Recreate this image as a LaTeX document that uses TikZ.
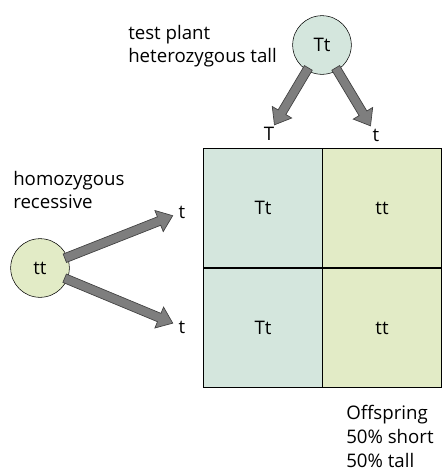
\documentclass[tikz,border=0pt]{standalone}
\usepackage{fontspec}
\setmainfont{Open Sans}
\usetikzlibrary{calc,positioning}
\definecolor{mint}{RGB}{212,230,221}
\definecolor{lime}{RGB}{226,235,198}
\definecolor{arrowgrey}{RGB}{126,126,126}
\tikzstyle{parent}=[draw,circle,minimum size=44pt,inner sep=0pt]
\tikzstyle{cell}=[draw,line width=0.9pt,minimum size=89.5pt,inner sep=0pt]
\tikzstyle{allele}=[inner sep=1pt]
\tikzstyle{caption}=[anchor=west,align=left,inner sep=0pt]
% block arrow from a parent circle towards an allele label, #1 = gap before the label
\tikzset{gamete/.style={draw=black!75, line width=0.5pt, fill=arrowgrey,
  to path={
    ($(\tikztostart)!20pt!(\tikztotarget)$) coordinate (ga-a)
    ($(\tikztotarget)!#1!(\tikztostart)$) coordinate (ga-b)
    ($(ga-b)!11pt!(ga-a)$) coordinate (ga-c)
    ($(ga-a)!3.4pt!90:(ga-b)$) -- ($(ga-c)!3.4pt!-90:(ga-a)$)
      -- ($(ga-c)!8.5pt!-90:(ga-a)$) -- (ga-b)
      -- ($(ga-c)!8.5pt!90:(ga-a)$) -- ($(ga-c)!3.4pt!90:(ga-a)$)
      -- ($(ga-a)!3.4pt!-90:(ga-b)$) -- cycle}},
  gamete/.default=8pt}

\begin{document}
\begin{tikzpicture}[x=0.75pt, y=-0.75pt, font=\fontsize{14}{17.5}\selectfont]
    \useasboundingbox (0,0) rectangle (442,472);
    % Punnett square: columns T / t, rows t / t
    \node[cell, fill=mint] (c11) at (263,208) {Tt};
    \node[cell, fill=lime] (c12) at (382,208) {tt};
    \node[cell, fill=mint] (c21) at (263,328) {Tt};
    \node[cell, fill=lime] (c22) at (382,328) {tt};

    % parents
    \node[parent, fill=mint] (tp) at (322,45) {Tt};
    \node[parent, fill=lime] (hr) at (40,268) {tt};
    \node[caption] (tplabel) at (128,46) {test plant\\heterozygous tall};
    \node[caption] (hrlabel) at (13,190) {homozygous\\recessive};

    % gametes
    \node[allele] (colT) at (269,134) {T};
    \node[allele] (colt) at (376,135) {t};
    \node[allele] (rowa) at (182,212) {t};
    \node[allele] (rowb) at (182,327) {t};

     \path (tp) edge[gamete] (colT);
     \path (tp) edge[gamete] (colt);
     \path (hr) edge[gamete=7.5pt] (rowa);
     \path (hr) edge[gamete=7.5pt] (rowb);

    \node[caption, font=\fontsize{14}{18}\selectfont] (offspring) at (346,436) {Offspring\\50\% short\\50\% tall};
  \end{tikzpicture}
\end{document}
